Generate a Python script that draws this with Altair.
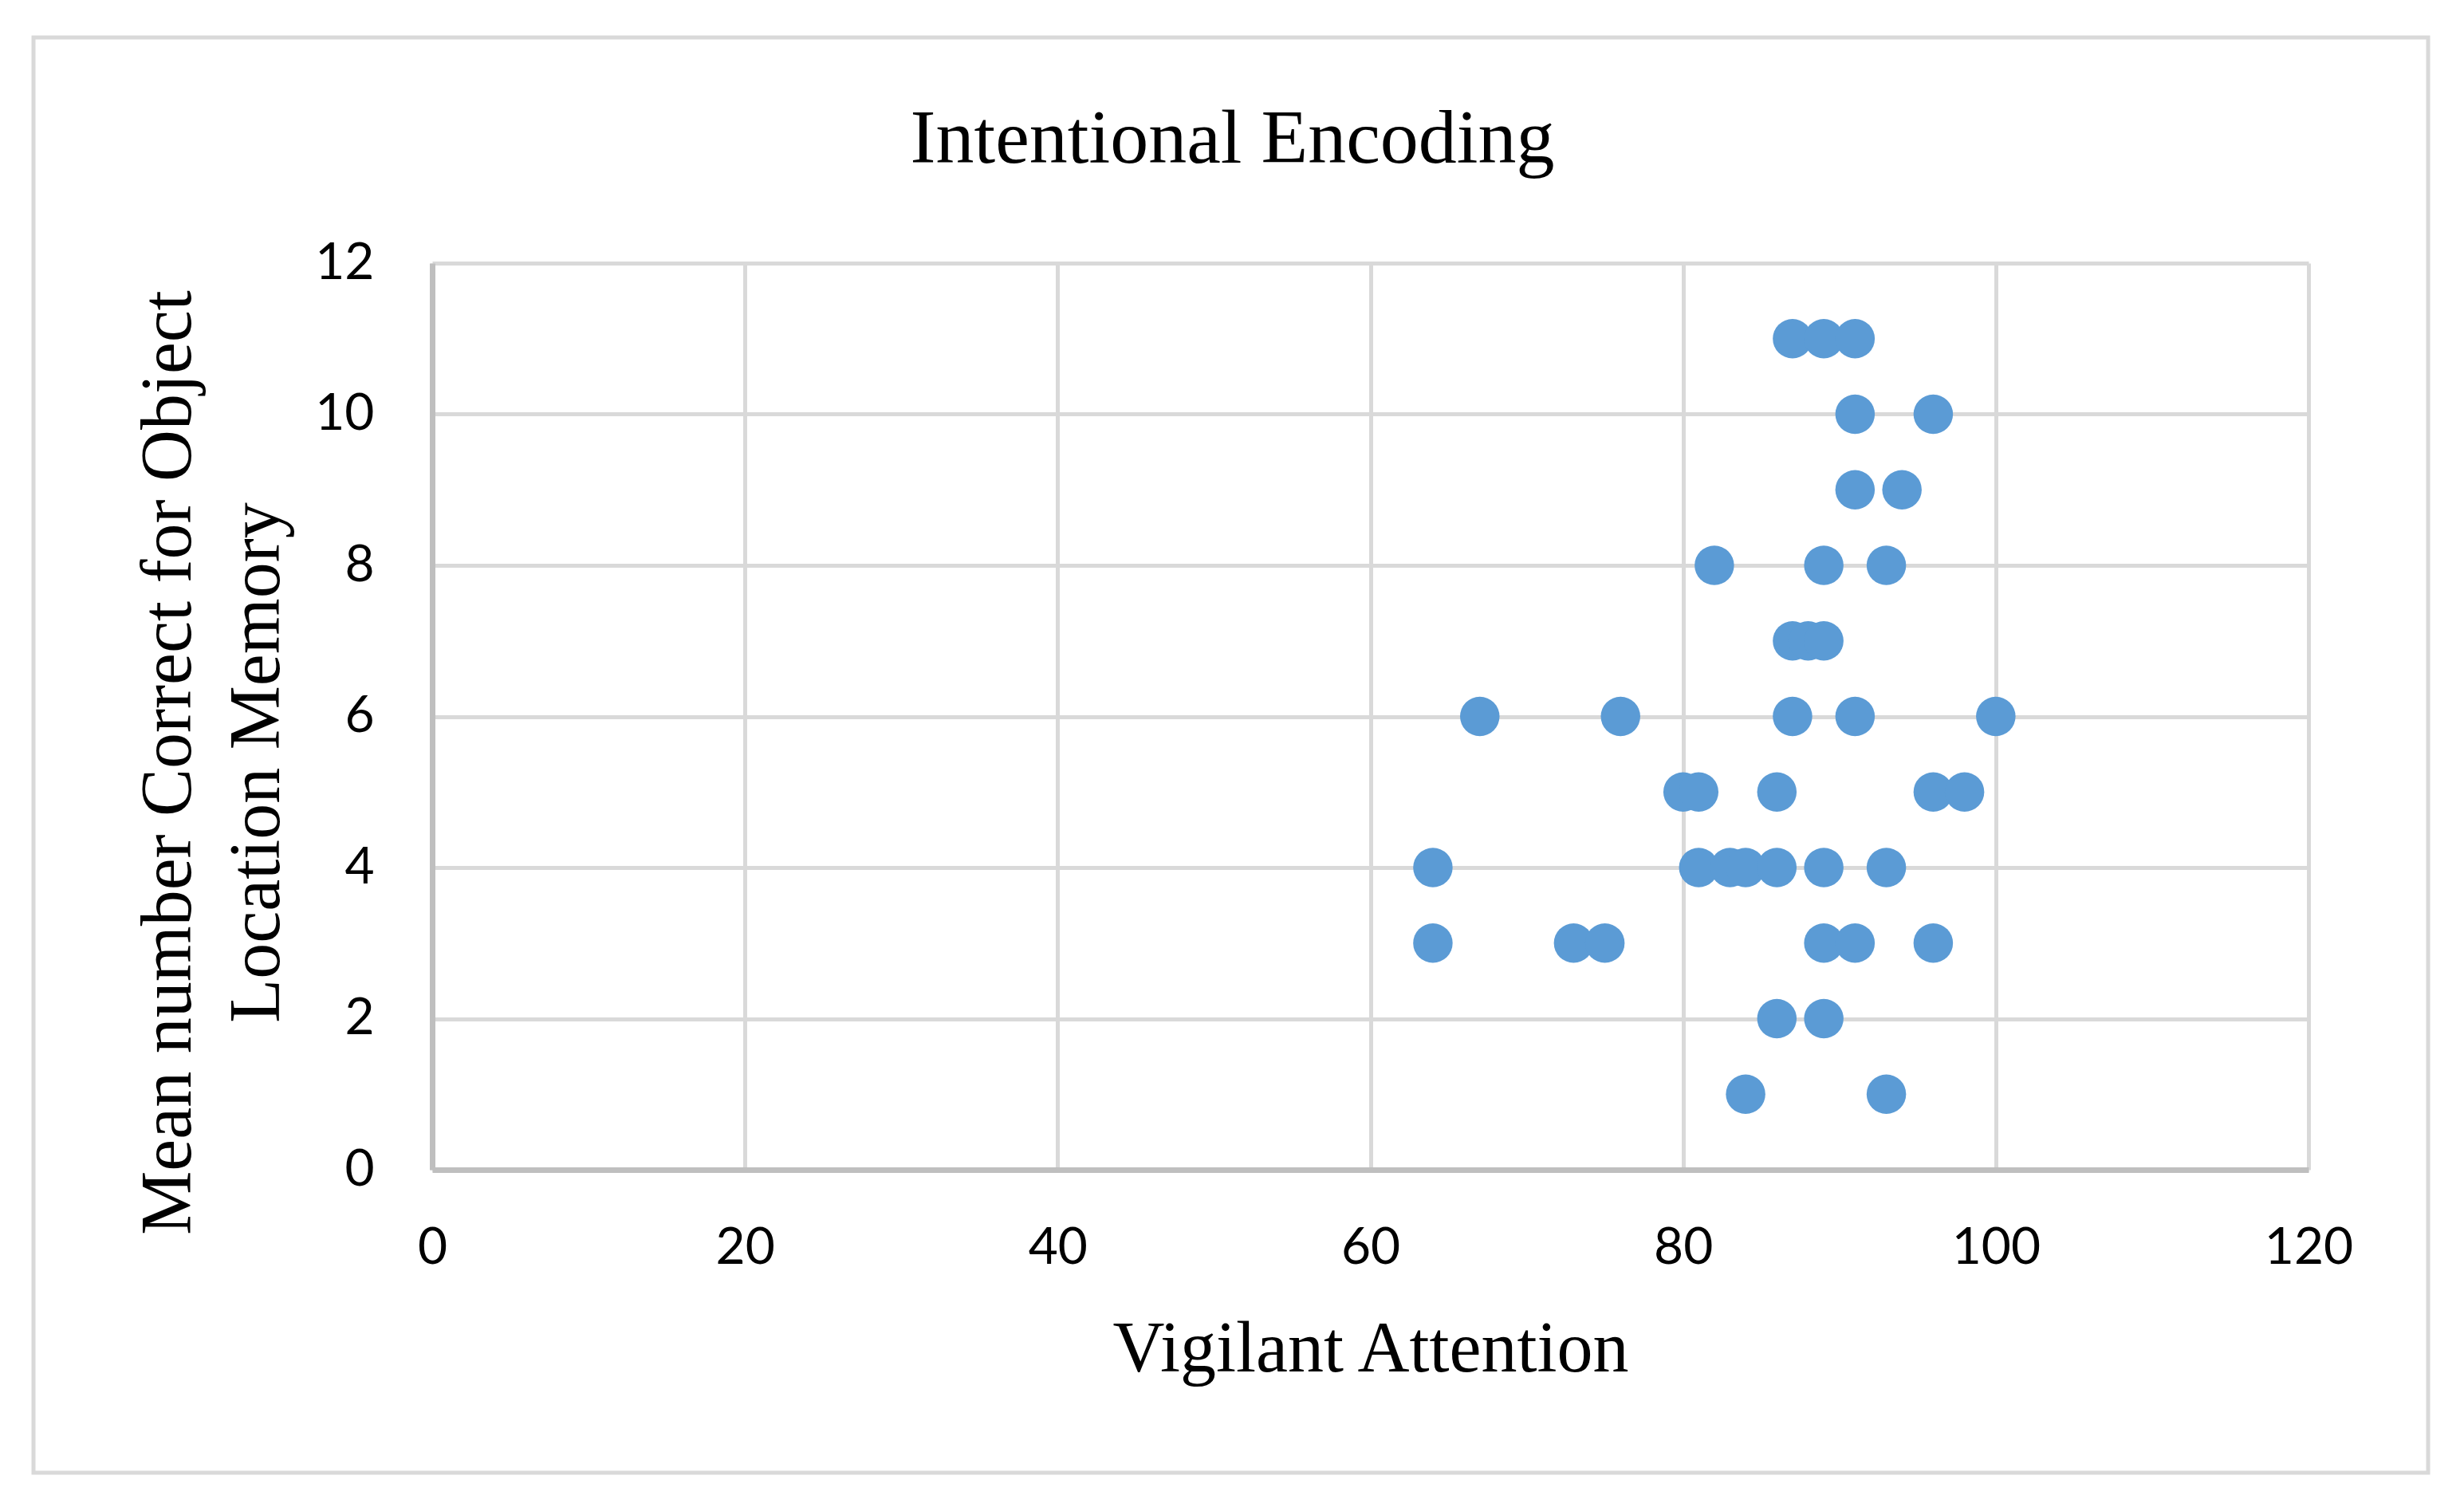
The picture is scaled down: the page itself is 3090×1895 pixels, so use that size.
import altair as alt
import pandas as pd

# Data (Vigilant Attention, Mean number correct)
vigilant = [87, 89, 91,
            91, 96,
            91, 94,
            82, 89, 93,
            87, 88, 89,
            67, 76, 87, 91, 100,
            80, 81, 86, 96, 98,
            64, 81, 83, 84, 86, 89, 93,
            64, 73, 75, 89, 91, 96,
            86, 89,
            84, 93]
memory = [11, 11, 11,
          10, 10,
          9, 9,
          8, 8, 8,
          7, 7, 7,
          6, 6, 6, 6, 6,
          5, 5, 5, 5, 5,
          4, 4, 4, 4, 4, 4, 4,
          3, 3, 3, 3, 3, 3,
          2, 2,
          1, 1]

x_ticks = [0, 20, 40, 60, 80, 100, 120]
y_ticks = [0, 2, 4, 6, 8, 10, 12]

df = pd.DataFrame({"Vigilant Attention": vigilant, "Memory": memory})

W, H = 2353, 1137

points = alt.Chart(df).mark_circle(size=2450, opacity=1, color="#5b9bd5").encode(
    x=alt.X("Vigilant Attention:Q",
            scale=alt.Scale(domain=[0, 120], nice=False),
            axis=alt.Axis(values=x_ticks, title="Vigilant Attention",
                          titleY=252, titleBaseline="alphabetic",
                          labelPadding=66, labelFlush=False)),
    y=alt.Y("Memory:Q",
            scale=alt.Scale(domain=[0, 12], nice=False),
            axis=alt.Axis(values=y_ticks,
                          title=["Mean number Correct for Object", "Location Memory"],
                          titleAngle=270, titleAlign="center", titleBaseline="top",
                          titleX=-375, titleY=626, titleLineHeight=111,
                          labelPadding=73, labelFlush=False)),
)

frame = alt.Chart(alt.Data(values=[{"a": 1}])).mark_rect(
    fill="transparent", stroke="#d9d9d9", strokeWidth=5
).encode(
    x=alt.value(-500), x2=alt.value(2503),
    y=alt.value(-283), y2=alt.value(1517),
)

chart = alt.layer(frame, points).properties(
    width=W, height=H,
    background="white",
    autosize=alt.AutoSizeParams(type="none"),
    padding={"left": 534, "top": 322, "right": 180, "bottom": 410},
    title=alt.TitleParams("Intentional Encoding", font="Liberation Serif",
                          fontSize=96, fontWeight="normal", color="black",
                          baseline="alphabetic",
                          anchor="middle", frame="group", dx=-173, offset=-255),
).configure_view(strokeWidth=0).configure_axis(
    grid=True, gridColor="#d9d9d9", gridWidth=5,
    domainColor="#bfbfbf", domainWidth=7,
    ticks=False, tickSize=0,
    labelFont="Lato", labelFontSize=64, labelColor="black",
    titleFont="Liberation Serif", titleFontSize=90, titleFontWeight="normal",
    titleColor="black",
)

chart.save("out.html", embed_options={"renderer": "svg", "actions": False})
